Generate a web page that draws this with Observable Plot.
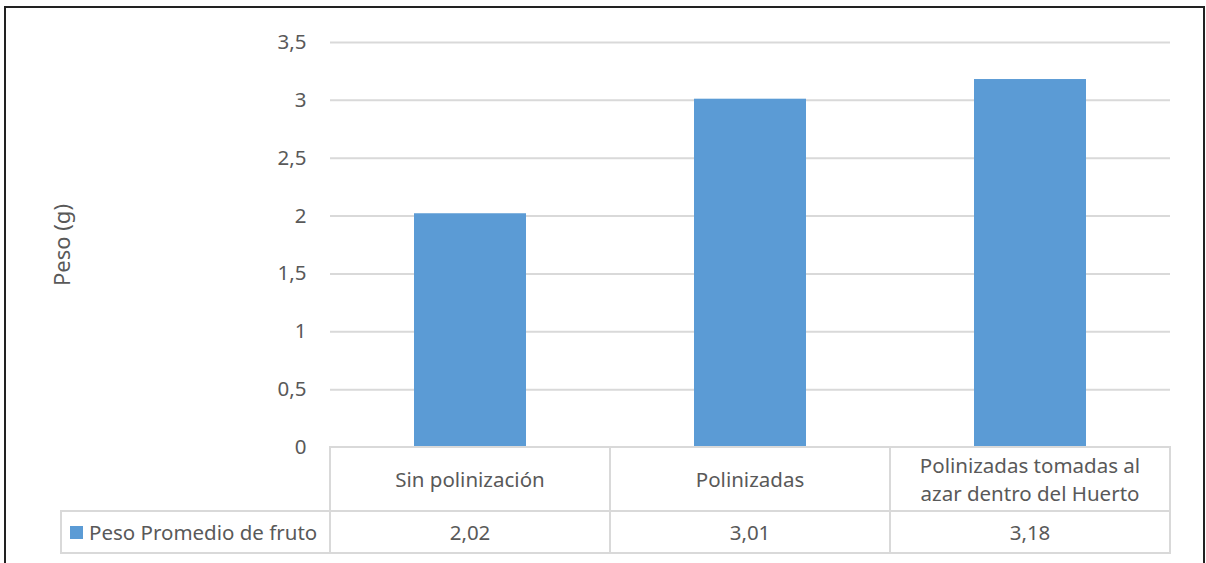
<!DOCTYPE html>
<html><head><meta charset="utf-8">
<script src="https://cdn.jsdelivr.net/npm/d3@7"></script>
<script src="https://cdn.jsdelivr.net/npm/@observablehq/plot@0.6"></script>
<style>
html,body{margin:0;padding:0;background:#fff;}
#wrap{position:relative;width:1206px;height:563px;overflow:hidden;font-family:"Noto Sans",sans-serif;color:#595959;background:#fff;}
#frame{position:absolute;left:4px;top:6px;width:1201px;height:620px;border:2px solid #222;box-sizing:border-box;pointer-events:none;}
#chart{position:absolute;left:0;top:0;}
.cell{position:absolute;box-sizing:border-box;border:2px solid #d9d9d9;display:flex;align-items:center;justify-content:center;text-align:center;font-size:20.5px;line-height:28px;color:#595959;background:#fff;}
.sw{display:inline-block;width:13px;height:13px;margin-right:6px;}
</style>
</head><body>
<div id="wrap"><div id="chart"></div><div id="frame"></div></div>
<script>
const categories = ["Sin polinización", "Polinizadas", "Polinizadas tomadas al azar dentro del Huerto"];
const headerLines = [["Sin polinización"], ["Polinizadas"], ["Polinizadas tomadas al", "azar dentro del Huerto"]];
const values = [2.02, 3.01, 3.18];
const seriesName = "Peso Promedio de fruto";
const yTicks = [0, 0.5, 1, 1.5, 2, 2.5, 3, 3.5];
const yLabel = "Peso (g)";
const barColor = "#5b9bd5";

const fmt = d => String(d).replace(".", ",");
const data = categories.map((c, i) => ({cat: c, val: values[i]}));

const chart = Plot.plot({
  width: 1206, height: 470,
  marginLeft: 330, marginRight: 36, marginTop: 42, marginBottom: 23,
  style: {fontFamily: "Noto Sans", fontSize: "20px", color: "#595959", background: "transparent"},
  x: {domain: categories, paddingInner: 0.6, paddingOuter: 0.3, axis: null},
  y: {domain: [0, 3.5]},
  marks: [
    Plot.gridY(yTicks, {stroke: "#d9d9d9", strokeOpacity: 1, strokeWidth: 2}),
    Plot.axisY(yTicks, {tickSize: 0, tickPadding: 24, tickFormat: fmt, label: null, fontSize: 20.5, fill: "#595959"}),
    Plot.barY(data, {x: "cat", y: "val", fill: barColor}),
    Plot.text([yLabel], {frameAnchor: "left", textAnchor: "middle", dx: -268, rotate: -90, fontSize: 22, fill: "#595959"})
  ]
});
document.getElementById("chart").appendChild(chart);

// data table below, positioned from the Plot scales
const xs = chart.scale("x");
const ys = chart.scale("y");
const step = xs.step, bw = xs.bandwidth;
const y0 = ys.apply(0);
const headerH = 64, rowH = 42;
const wrap = d3.select("#wrap");
const colLeft = c => xs.apply(c) - (step - bw) / 2;

categories.forEach((c, i) => {
  const l = colLeft(c);
  const h = wrap.insert("div", "#frame").attr("class", "cell")
    .style("left", (l - 1) + "px").style("top", (y0 - 1) + "px")
    .style("width", (step + 2) + "px").style("height", (headerH + 2) + "px");
  h.append("div").html(headerLines[i].join("<br>"));
  wrap.insert("div", "#frame").attr("class", "cell")
    .style("left", (l - 1) + "px").style("top", (y0 + headerH - 1) + "px")
    .style("width", (step + 2) + "px").style("height", (rowH + 2) + "px")
    .text(fmt(values[i]));
});
const firstLeft = colLeft(categories[0]);
const leg = wrap.insert("div", "#frame").attr("class", "cell")
  .style("left", "60px").style("top", (y0 + headerH - 1) + "px")
  .style("width", (firstLeft - 60 + 1) + "px").style("height", (rowH + 2) + "px")
  .style("justify-content", "flex-start").style("padding-left", "8px");
leg.append("span").attr("class", "sw").style("background", barColor);
leg.append("span").text(seriesName);
</script>
</body></html>
